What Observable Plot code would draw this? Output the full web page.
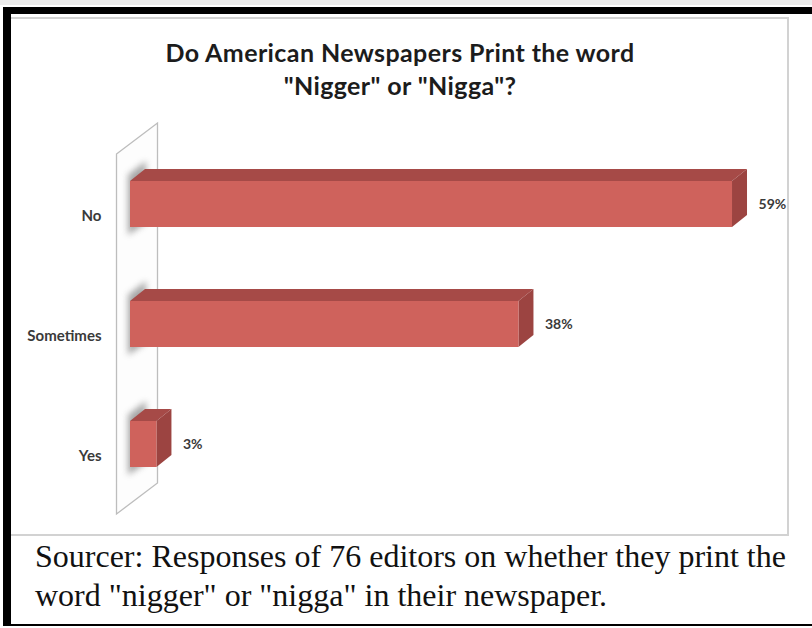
<!DOCTYPE html>
<html><head><meta charset="utf-8">
<script src="https://cdn.jsdelivr.net/npm/d3@7"></script>
<script src="https://cdn.jsdelivr.net/npm/@observablehq/plot@0.6"></script>
<style>
html,body{margin:0;padding:0;background:#fff;}
#page{position:relative;width:812px;height:628px;overflow:hidden;background:#fff;}
.blk{position:absolute;background:#000;}
#strip{position:absolute;left:0;top:0;width:812px;height:5px;background:#ececec;}
#box{position:absolute;left:11px;top:17px;width:776px;height:515px;border:2px solid #d2d2d2;border-left:none;background:#fff;}
#title{position:absolute;left:11px;width:778px;top:36px;text-align:center;font-family:Lato,"Open Sans",sans-serif;font-weight:700;font-size:25px;letter-spacing:0.4px;line-height:33px;color:#1c1c1c;}
#chart{position:absolute;left:0;top:0;}
#caption{position:absolute;left:35px;top:537px;font-family:"Liberation Serif","DejaVu Serif",serif;font-size:32px;line-height:39px;color:#111;white-space:nowrap;}
</style></head>
<body>
<div id="page">
  <div id="strip"></div>
  <div id="box"></div>
  <div class="blk" style="left:3px;top:7px;width:809px;height:7px"></div>
  <div class="blk" style="left:3px;top:7px;width:8px;height:619px"></div>
  <div class="blk" style="left:3px;top:624px;width:809px;height:2px"></div>
  <div id="title">Do American Newspapers Print the word<br>"Nigger" or "Nigga"?</div>
  <div id="chart"></div>
  <div id="caption">Sourcer: Responses of 76 editors on whether they print the<br>word "nigger" or "nigga" in their newspaper.</div>
</div>
<script>
// ---- data ----
const categories = ["No", "Sometimes", "Yes"];
const shares = [0.592, 0.382, 0.026];
const valueLabels = ["59%", "38%", "3%"];

const data = categories.map((c, i) => ({cat: c, share: shares[i], label: valueLabels[i]}));

// ---- styling constants ----
const FRONT = "#cf625c", TOP = "#a64a47", SIDE = "#9c4441";
const DX = 15, DY = -12;                 // bar depth projection
const WF = [-13.5, 10], WB = [27.5, -21]; // wall front/back offsets

function wallMark(index, scales) {
  const x0 = scales.x(0);
  const [yT, yB] = scales.y.range();
  const g = d3.create("svg:g");
  const pts = [[x0 + WF[0], yT + WF[1]], [x0 + WB[0], yT + WB[1]], [x0 + WB[0], yB + WB[1]], [x0 + WF[0], yB + WF[1]]];
  g.append("path").attr("d", "M" + pts.map(p => p.join(",")).join("L") + "Z")
    .attr("fill", "#fdfdfd").attr("stroke", "#bdbdbd").attr("stroke-width", 1.3);
  return g.node();
}

function shadowMark(index, scales) {
  const g = d3.create("svg:g");
  const bw = scales.y.bandwidth();
  g.append("defs").append("filter").attr("id", "wblur")
    .attr("x", "-50%").attr("y", "-50%").attr("width", "200%").attr("height", "200%")
    .append("feGaussianBlur").attr("stdDeviation", 3);
  const x0 = scales.x(0);
  for (const d of data) {
    const yT = scales.y(d.cat), yB = yT + bw;
    g.append("path")
      .attr("d", `M${x0 - 2},${yT - 6}L${x0 + DX + 1},${yT + DY - 8}L${x0 + DX + 1},${yB + DY + 8}L${x0 - 2},${yB + 8}Z`)
      .attr("fill", "#6e6e6e").attr("opacity", 0.6).attr("filter", "url(#wblur)");
  }
  return g.node();
}

function barSides(index, scales) {
  const g = d3.create("svg:g");
  const bw = scales.y.bandwidth();
  const x0 = scales.x(0);
  for (const d of data) {
    const x1 = scales.x(d.share), yT = scales.y(d.cat), yB = yT + bw;
    g.append("path").attr("d", `M${x0},${yT}L${x0 + DX},${yT + DY}L${x1 + DX},${yT + DY}L${x1},${yT}Z`).attr("fill", TOP);
    g.append("path").attr("d", `M${x1},${yT}L${x1 + DX},${yT + DY}L${x1 + DX},${yB + DY}L${x1},${yB}Z`).attr("fill", SIDE);
  }
  return g.node();
}

const chart = Plot.plot({
  width: 812,
  height: 540,
  style: {background: "transparent", overflow: "visible"},
  x: {domain: [0, 0.65], range: [130, 791], axis: null},
  y: {domain: categories, range: [144, 504], paddingInner: 0.617, paddingOuter: 0.3085, axis: null},
  marks: [
    wallMark,
    shadowMark,
    barSides,
    Plot.barX(data, {x: "share", y: "cat", fill: FRONT}),
    Plot.text(data, {x: () => 0, y: "cat", text: "cat", textAnchor: "end", dx: -29, dy: 12,
      fontSize: 15, fontWeight: "bold", fontFamily: "Lato, sans-serif", fill: "#3a3a3a"}),
    Plot.text(data, {x: "share", y: "cat", text: "label", textAnchor: "start", dx: 26, dy: 0,
      fontSize: 14, fontWeight: "bold", fontFamily: "Lato, sans-serif", fill: "#3a3a3a"})
  ]
});
document.getElementById("chart").appendChild(chart);
</script>
</body></html>
